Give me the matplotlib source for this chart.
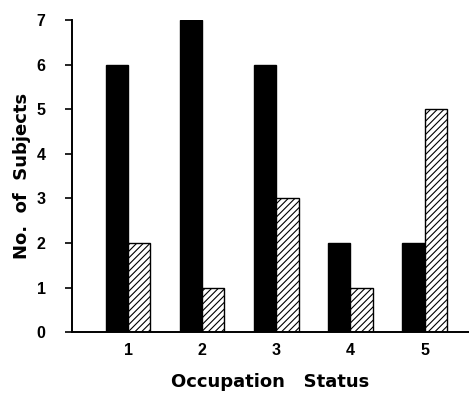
import numpy as np
import matplotlib.pyplot as plt

plt.rcParams['font.family'] = ['Liberation Sans', 'DejaVu Sans']
plt.rcParams['hatch.linewidth'] = 0.8

status = [1, 2, 3, 4, 5]
group_a = [6, 7, 6, 2, 2]
group_b = [2, 1, 3, 1, 5]

fig = plt.figure(figsize=(4.69, 3.93), dpi=100)
ax = fig.add_axes([0.1535, 0.155, 0.8465, 0.794])

x = np.array(status, dtype=float)
w = 0.3
ax.bar(x - w / 2, group_a, width=w, color='black', edgecolor='black', linewidth=1)
ax.bar(x + w / 2, group_b, width=w, color='white', edgecolor='black',
       hatch='/////', linewidth=1)

ax.set_xlim(0.243, 5.6)
ax.set_ylim(0, 7)
ax.set_yticks(range(8))
ax.set_xticks(status)

ax.spines['top'].set_visible(False)
ax.spines['right'].set_visible(False)
ax.spines['left'].set_linewidth(1.4)
ax.spines['bottom'].set_linewidth(1.4)
ax.tick_params(axis='y', length=5, width=1.2, pad=14, labelsize=11.5)
ax.tick_params(axis='x', length=0, pad=8, labelsize=11.5)
for lab in ax.get_xticklabels() + ax.get_yticklabels():
    lab.set_fontweight('bold')

lab_font = dict(fontsize=13, fontweight='bold', family='DejaVu Sans')
ax.set_xlabel('Occupation   Status', labelpad=11, **lab_font)
ax.set_ylabel('No.  of  Subjects', labelpad=4, **lab_font)

fig.savefig('out.png', dpi=100)
